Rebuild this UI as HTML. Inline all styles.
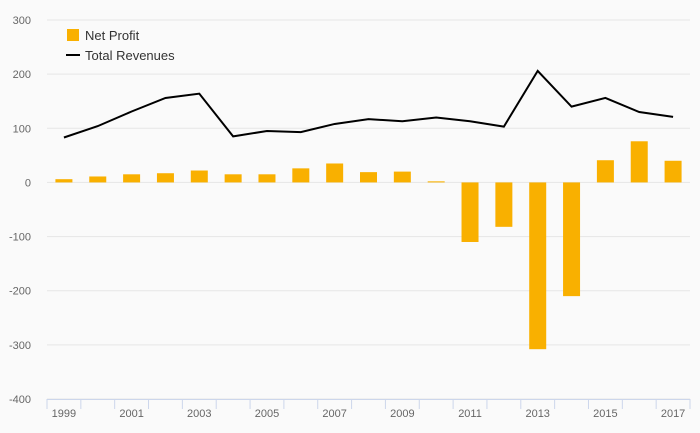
<!DOCTYPE html>
<html><head><meta charset="utf-8"><style>
html,body{margin:0;padding:0;background:#fafafa;}
svg{display:block;font-family:"Liberation Sans",sans-serif;}
</style></head><body>
<svg id="chart" width="700" height="433"></svg>
<script>
const years=["1999","2000","2001","2002","2003","2004","2005","2006","2007","2008","2009","2010","2011","2012","2013","2014","2015","2016","2017"];
const netProfit=[6,11,15,17,22,15,15,26,35,19,20,2,-110,-82,-308,-210,41,76,40];
const revenues=[83,104,131,156,164,85,95,93,108,117,113,120,113,103,206,140,156,130,121];
const yTicks=[300,200,100,0,-100,-200,-300,-400];
const NS="http://www.w3.org/2000/svg";
const svg=document.getElementById("chart");
const L=47,R=690,T=20,B=399,yMax=300,yMin=-400;
const n=years.length,band=(R-L)/n;
function x(i){return L+band*(i+0.5);}
function y(v){return T+(yMax-v)/(yMax-yMin)*(B-T);}
function mk(t,a){const e=document.createElementNS(NS,t);for(const k in a)e.setAttribute(k,a[k]);svg.appendChild(e);return e;}
yTicks.forEach(v=>{
  const g=mk("line",{x1:L,x2:R,y1:y(v),y2:y(v),stroke:"#e6e6e6","stroke-width":1});
  
  
  const t=mk("text",{x:31,y:y(v)+4,"text-anchor":"end","font-size":11,fill:"#666"});
  t.textContent=v;
  
  
});
netProfit.forEach((v,i)=>{
  const r=mk("rect",{x:x(i)-8.5,width:17,y:Math.min(y(v),y(0)),height:Math.abs(y(v)-y(0)),fill:"#f9b000"});
  
  
});
const p=mk("polyline",{points:revenues.map((v,i)=>x(i)+","+y(v)).join(" "),fill:"none",stroke:"#000","stroke-width":2});


const ax=mk("line",{x1:L,x2:R,y1:B+0.5,y2:B+0.5,stroke:"#ccd6eb","stroke-width":1});


for(let i=0;i<=n;i++){
  const tk=mk("line",{x1:L+band*i,x2:L+band*i,y1:B,y2:B+10,stroke:"#ccd6eb"});
  
  
}
years.forEach((yr,i)=>{
  if(i%2)return;
  const t=mk("text",{x:x(i),y:417,"text-anchor":"middle","font-size":11,fill:"#666"});
  t.textContent=yr;
  
  
});
const lr=mk("rect",{x:67,y:29,width:12,height:12,fill:"#f9b000"});


const lt1=mk("text",{x:85,y:40,"font-size":13,fill:"#333"});lt1.textContent="Net Profit";


const ll=mk("line",{x1:66,x2:80,y1:55,y2:55,stroke:"#000","stroke-width":2});


const lt2=mk("text",{x:85,y:60,"font-size":13,fill:"#333"});lt2.textContent="Total Revenues";


</script>
</body></html>
